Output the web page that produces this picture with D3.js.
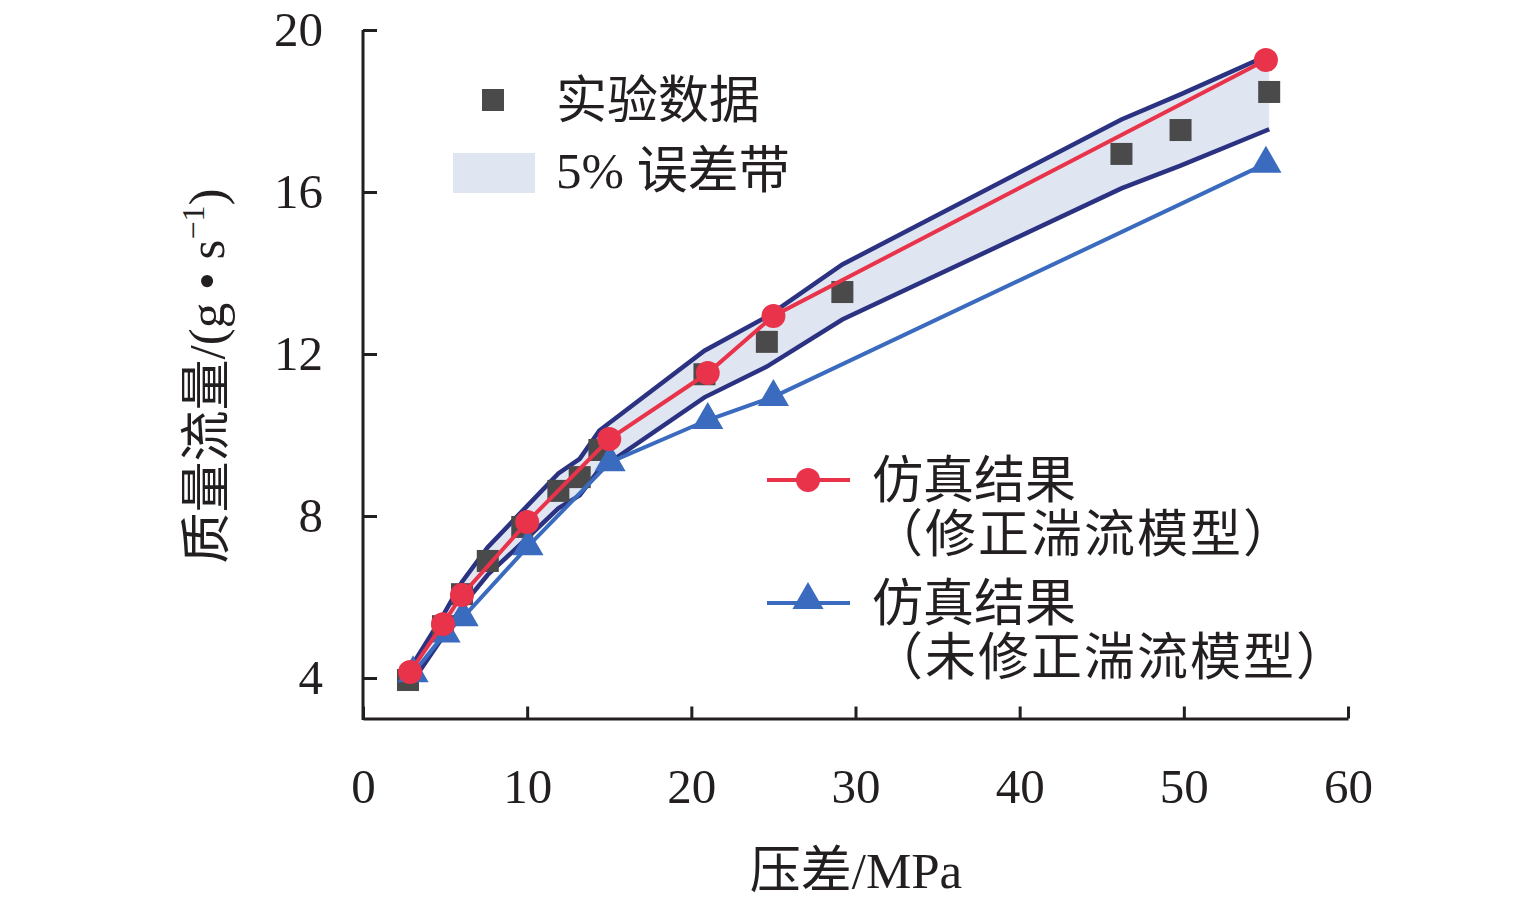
<!DOCTYPE html>
<html>
<head>
<meta charset="utf-8">
<script src="https://cdn.jsdelivr.net/npm/d3@7"></script>
<style>
  body { margin: 0; background: #fff; }
  text { font-family: "Liberation Serif", "Noto Sans CJK SC", serif; fill: #231f20; }
</style>
</head>
<body>
<svg id="chart" width="1535" height="905"></svg>
<script>
// experimental data
var expX = [2.74, 4.87, 6.03, 7.6, 9.7, 11.9, 13.2, 14.4, 20.8, 24.6, 29.2, 46.2, 49.8, 55.2];
var expY = [3.95, 5.28, 6.07, 6.89, 7.73, 8.62, 8.96, 9.63, 11.5, 12.3, 13.53, 16.94, 17.53, 18.47];
// 5% error band edges
var bandUpper = [4.15, 5.54, 6.37, 7.23, 8.12, 9.05, 9.41, 10.11, 12.08, 12.92, 14.21, 17.79, 18.41, 19.39];
var bandLower = [3.75, 5.02, 5.77, 6.55, 7.34, 8.19, 8.51, 9.15, 10.93, 11.69, 12.85, 16.09, 16.65, 17.55];
// simulation, corrected turbulence model
var simX = [2.87, 4.87, 6.03, 10, 15, 21, 25, 55];
var corrY = [4.15, 5.33, 6.05, 7.85, 9.9, 11.53, 12.94, 19.26];
// simulation, uncorrected turbulence model
var uncX = [3.05, 5.0, 6.1, 10.05, 15.05, 21, 25, 55];
var uncY = [4.12, 5.1, 5.5, 7.25, 9.33, 10.37, 10.94, 16.7];

var xTicks = [0, 10, 20, 30, 40, 50, 60];
var yTicks = [4, 8, 12, 16, 20];

var svg = d3.select("#chart");

var xScale = d3.scaleLinear().domain([0, 60]).range([363, 1348]);
var yScale = d3.scaleLinear().domain([3, 20]).range([718.5, 30]);

var navy = "#2b3282", red = "#e8334a", blue = "#3a6bbf", grey = "#4a4a4a", bandFill = "#dfe5f1";

// error band
var bandData = expX.map(function(x, i){ return {x: x, lo: bandLower[i], hi: bandUpper[i]}; });
svg.append("path")
	.datum(bandData)
	.attr("d", d3.area()
		.x(function(d){ return xScale(d.x); })
		.y0(function(d){ return yScale(d.lo); })
		.y1(function(d){ return yScale(d.hi); }))
	.attr("fill", bandFill);

var edge = d3.line()
	.x(function(d){ return xScale(d[0]); })
	.y(function(d){ return yScale(d[1]); });

[bandUpper, bandLower].forEach(function(arr){
	svg.append("path")
		.datum(expX.map(function(x, i){ return [x, arr[i]]; }))
		.attr("d", edge)
		.attr("fill", "none")
		.attr("stroke", navy)
		.attr("stroke-width", 4.5);
});

// experimental squares
svg.append("g").selectAll("rect")
	.data(expX.map(function(x, i){ return [x, expY[i]]; }))
	.enter().append("rect")
	.attr("x", function(d){ return xScale(d[0]) - 11; })
	.attr("y", function(d){ return yScale(d[1]) - 11; })
	.attr("width", 22)
	.attr("height", 22)
	.attr("fill", grey);

// uncorrected model
var uncData = uncX.map(function(x, i){ return [x, uncY[i]]; });
svg.append("path")
	.datum(uncData)
	.attr("d", edge)
	.attr("fill", "none")
	.attr("stroke", blue)
	.attr("stroke-width", 4);

var tri = d3.symbol().type(d3.symbolTriangle).size(420);
svg.append("g").selectAll("path")
	.data(uncData)
	.enter().append("path")
	.attr("d", tri)
	.attr("transform", function(d){ return "translate(" + xScale(d[0]) + "," + yScale(d[1]) + ")"; })
	.attr("fill", blue);

// corrected model
var corrData = simX.map(function(x, i){ return [x, corrY[i]]; });
svg.append("path")
	.datum(corrData)
	.attr("d", edge)
	.attr("fill", "none")
	.attr("stroke", red)
	.attr("stroke-width", 4);

svg.append("g").selectAll("circle")
	.data(corrData)
	.enter().append("circle")
	.attr("cx", function(d){ return xScale(d[0]); })
	.attr("cy", function(d){ return yScale(d[1]); })
	.attr("r", 12)
	.attr("fill", red);

// axes
var xAxis = svg.append("g")
	.attr("transform", "translate(0," + 718.5 + ")")
	.call(d3.axisBottom(xScale).tickValues(xTicks).tickSizeInner(-12).tickSizeOuter(0).tickPadding(50));
var yAxis = svg.append("g")
	.attr("transform", "translate(" + 363 + ",0)")
	.call(d3.axisLeft(yScale).tickValues(yTicks).tickSizeInner(-14).tickSizeOuter(0).tickPadding(40));

[xAxis, yAxis].forEach(function(a){
	a.select(".domain").attr("stroke", "#231f20").attr("stroke-width", 3);
	a.selectAll(".tick line").attr("stroke", "#231f20").attr("stroke-width", 3);
	a.selectAll(".tick text")
		.attr("font-family", "Liberation Serif, serif")
		.attr("font-size", 49)
		.attr("fill", "#231f20");
});
// extend y axis to the bottom corner
yAxis.select(".domain").attr("d", "M0," + yScale(20) + "V" + 720);

// axis titles
svg.append("text")
	.attr("x", 856)
	.attr("y", 888)
	.attr("text-anchor", "middle")
	.attr("font-size", 51)
	.text("压差/MPa");

var yTitle = svg.append("text")
	.attr("transform", "translate(224,376) rotate(-90)")
	.attr("text-anchor", "middle")
	.attr("font-size", 51);
yTitle.append("tspan").text("质量流量/(g • s");
yTitle.append("tspan").attr("font-size", 32).attr("dy", -20).text("−1");
yTitle.append("tspan").attr("dy", 20).text(")");

// legend, top
svg.append("rect")
	.attr("x", 482).attr("y", 89).attr("width", 22).attr("height", 22)
	.attr("fill", grey);
svg.append("text")
	.attr("x", 556).attr("y", 118)
	.attr("font-size", 51)
	.text("实验数据");
svg.append("rect")
	.attr("x", 453).attr("y", 153).attr("width", 82).attr("height", 40)
	.attr("fill", bandFill);
svg.append("text")
	.attr("x", 556).attr("y", 188)
	.attr("font-size", 51)
	.text("5% 误差带");

// legend, bottom
var legendItems = [
	{y: 480, color: red, marker: "circle", line1: "仿真结果", line2: "（修正湍流模型）"},
	{y: 603, color: blue, marker: "triangle", line1: "仿真结果", line2: "（未修正湍流模型）"}
];
legendItems.forEach(function(d){
	svg.append("line")
		.attr("x1", 767).attr("x2", 850)
		.attr("y1", d.y).attr("y2", d.y)
		.attr("stroke", d.color).attr("stroke-width", 4);
	if (d.marker == "circle") {
		svg.append("circle").attr("cx", 808).attr("cy", d.y).attr("r", 12).attr("fill", d.color);
	} else {
		svg.append("path").attr("d", tri)
			.attr("transform", "translate(808," + (d.y - 3) + ")")
			.attr("fill", d.color);
	}
	svg.append("text")
		.attr("x", 872).attr("y", d.y + 18)
		.attr("font-size", 51)
		.text(d.line1);
	svg.append("text")
		.attr("x", 872).attr("y", d.y + 72)
		.attr("font-size", 51)
		.attr("letter-spacing", 2)
		.text(d.line2);
});
</script>
</body>
</html>
